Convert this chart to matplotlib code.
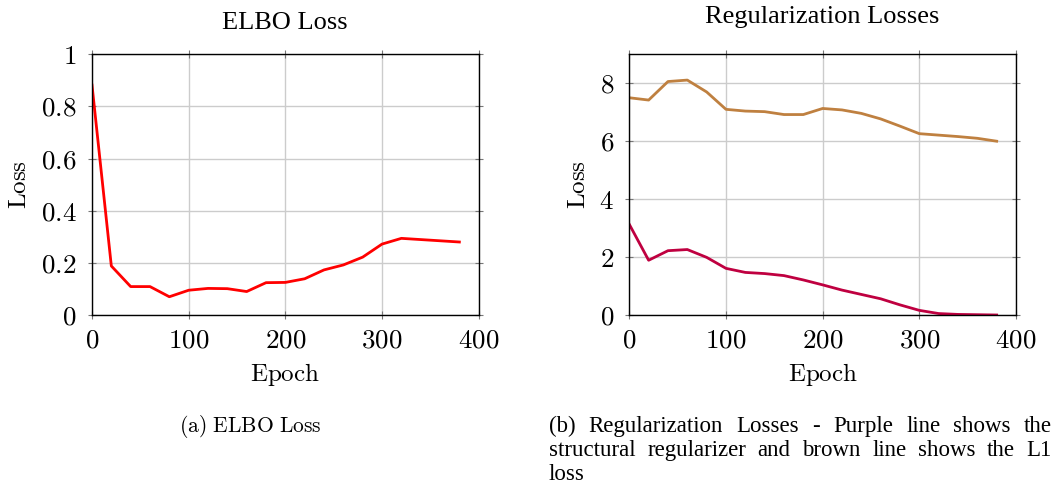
import matplotlib
matplotlib.use("Agg")
import matplotlib.pyplot as plt
from matplotlib.ticker import FuncFormatter

plt.rcParams['mathtext.fontset'] = 'cm'
plt.rcParams['font.family'] = ['Liberation Serif', 'DejaVu Serif']

# ---- data ----
elbo_epochs = [0, 20, 40, 60, 80, 100, 120, 140, 160, 180, 200, 220, 240, 260, 280, 300, 320, 380]
elbo_loss = [0.882, 0.188, 0.109, 0.109, 0.070, 0.095, 0.102, 0.101, 0.090, 0.124,
             0.125, 0.139, 0.173, 0.192, 0.222, 0.272, 0.294, 0.280]

reg_epochs = [0, 20, 40, 60, 80, 100, 120, 140, 160, 180, 200, 220, 240, 260, 280, 300, 320, 340, 360, 380]
l1_loss = [7.50, 7.42, 8.06, 8.11, 7.70, 7.10, 7.04, 7.02, 6.92, 6.92,
           7.13, 7.08, 6.96, 6.77, 6.52, 6.26, 6.21, 6.16, 6.10, 6.00]
struct_loss = [3.13, 1.89, 2.22, 2.26, 1.99, 1.61, 1.47, 1.43, 1.36, 1.21,
               1.04, 0.86, 0.71, 0.56, 0.35, 0.16, 0.05, 0.02, 0.01, 0.0]

x_ticks = [0, 100, 200, 300, 400]
elbo_yticks = [0, 0.2, 0.4, 0.6, 0.8, 1]
reg_yticks = [0, 2, 4, 6, 8]

W, H = 1058, 487
fig = plt.figure(figsize=(W / 100, H / 100), dpi=100)

def px_axes(l, r, t, b):
    return fig.add_axes([l / W, 1 - b / H, (r - l) / W, (b - t) / H])

ax1 = px_axes(92, 478.7, 54.3, 315)
ax2 = px_axes(629.3, 1016, 54.3, 315)

fmt = FuncFormatter(lambda v, p: '$%g$' % v)

def style(ax, yticks, ylim):
    ax.set_xlim(0, 400)
    ax.set_ylim(*ylim)
    ax.set_xticks(x_ticks)
    ax.set_yticks(yticks)
    ax.xaxis.set_major_formatter(fmt)
    ax.yaxis.set_major_formatter(fmt)
    ax.grid(True, color='#cccccc', linewidth=1.0)
    ax.set_axisbelow(True)
    for s in ax.spines.values():
        s.set_linewidth(1.0)
        s.set_color('black')
    ax.tick_params(direction='inout', length=6, width=0.8, color='#777777',
                   labelsize=19.5, top=True, right=True)
    ax.tick_params(axis='x', pad=7)
    ax.tick_params(axis='y', pad=8)
    ax.set_xlabel(r'$\mathrm{Epoch}$', fontsize=18, labelpad=5)
    ax.set_ylabel(r'$\mathrm{Loss}$', fontsize=18, labelpad=7)

ax1.plot(elbo_epochs, elbo_loss, color='#ff0000', linewidth=2.0)
style(ax1, elbo_yticks, (0, 1))

ax2.plot(reg_epochs, l1_loss, color='#bf8040', linewidth=2.0)
ax2.plot(reg_epochs, struct_loss, color='#bf0040', linewidth=2.0)
style(ax2, reg_yticks, (0, 9))

fig.text(285 / W, 1 - 29 / H, 'ELBO Loss', ha='center', va='baseline', fontsize=19)
fig.text(822.6 / W, 1 - 23 / H, 'Regularization Losses', ha='center', va='baseline', fontsize=19)

fig.text(250.5 / W, 1 - 432 / H, r'$\mathrm{(a)\ ELBO\ Loss}$', ha='center', va='baseline', fontsize=15.5)

# justified caption (b)
lines = ["(b) Regularization Losses - Purple line shows the",
         "structural regularizer and brown line shows the L1",
         "loss"]
x_left, x_right = 549, 1052
baselines = [432, 456, 480]
cap_fs = 16.5
fig.canvas.draw()
renderer = fig.canvas.get_renderer()
for li, (line, yb) in enumerate(zip(lines, baselines)):
    words = line.split(' ')
    if li == len(lines) - 1:
        fig.text(x_left / W, 1 - yb / H, line, ha='left', va='baseline', fontsize=cap_fs)
        continue
    objs = [fig.text(0, 1 - yb / H, w, ha='left', va='baseline', fontsize=cap_fs) for w in words]
    widths = [o.get_window_extent(renderer).width for o in objs]
    gap = (x_right - x_left - sum(widths)) / (len(words) - 1)
    x = x_left
    for o, w in zip(objs, widths):
        o.set_x(x / W)
        x += w + gap

fig.savefig('out.png', dpi=100)
